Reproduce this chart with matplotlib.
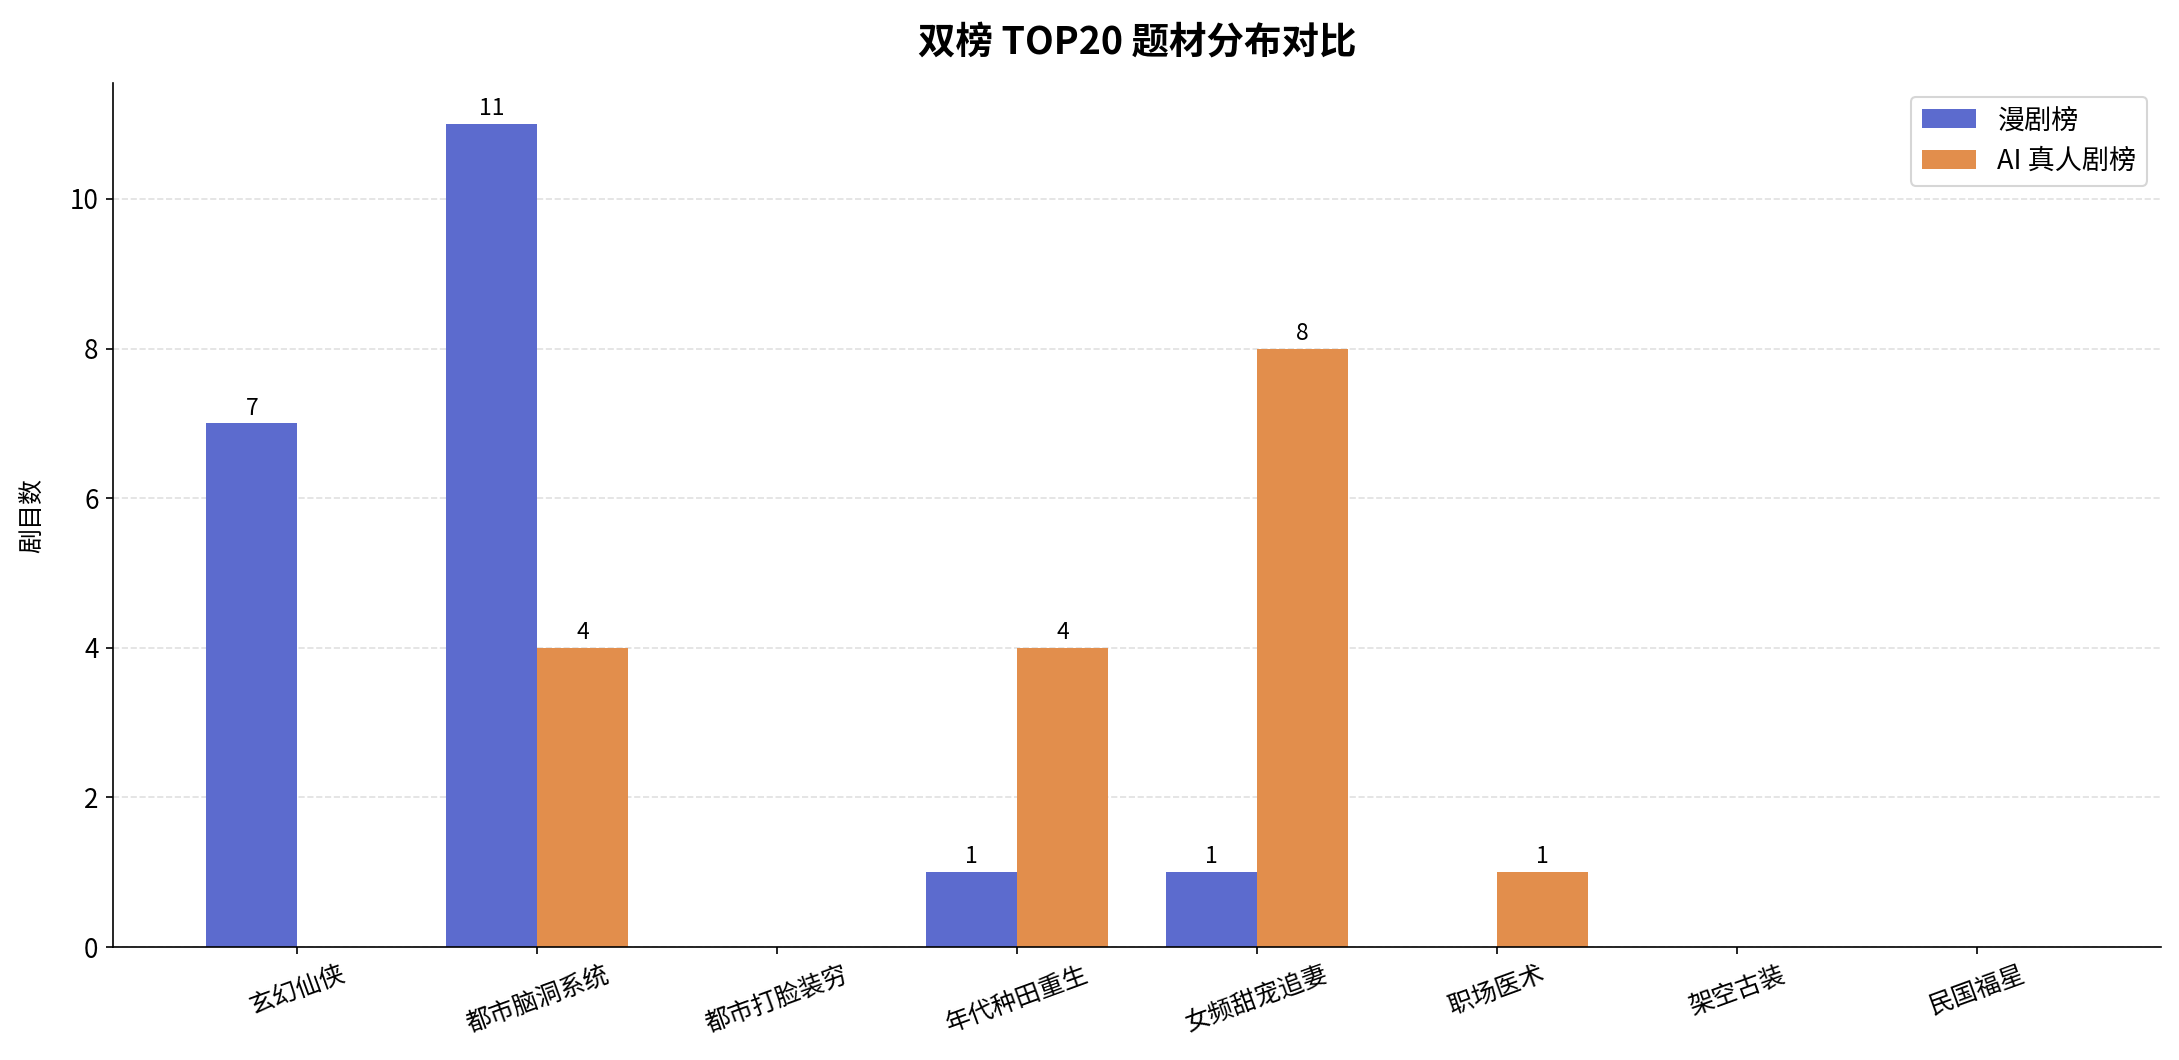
import matplotlib
matplotlib.use('Agg')
import matplotlib.pyplot as plt
import numpy as np

plt.rcParams['font.family'] = ['Noto Sans CJK SC', 'DejaVu Sans']

genres = ['玄幻仙侠', '都市脑洞系统', '都市打脸装穷', '年代种田重生',
          '女频甜宠追妻', '职场医术', '架空古装', '民国福星']
manju = [7, 11, 0, 1, 1, 0, 0, 0]
ai_real = [0, 4, 0, 4, 8, 1, 0, 0]

x = np.arange(len(genres))
w = 0.38

fig = plt.figure(figsize=(2179/150, 1060/150), dpi=150)
ax = fig.add_axes([0.0519, 0.1066, 0.9398, 0.8151])

b1 = ax.bar(x - w/2, manju, w, color='#5C6BCE', label='漫剧榜')
b2 = ax.bar(x + w/2, ai_real, w, color='#E28E4C', label='AI 真人剧榜')

for bars in (b1, b2):
    for r in bars:
        h = r.get_height()
        if h > 0:
            ax.text(r.get_x() + r.get_width()/2, h + 0.05, '%d' % h,
                    ha='center', va='bottom', fontsize=11)

ax.set_xticks(x)
ax.set_xticklabels(genres, rotation=20, fontsize=12)
ax.tick_params(axis='y', labelsize=12.5)
ax.set_ylabel('剧目数', fontsize=12, labelpad=12)
ax.set_title('双榜 TOP20 题材分布对比', fontsize=18, fontweight='bold', pad=14)
ax.yaxis.grid(True, linestyle='--', color='#cccccc', alpha=0.6)
ax.set_axisbelow(True)
ax.spines['top'].set_visible(False)
ax.spines['right'].set_visible(False)
ax.legend(loc='upper right', fontsize=13)

fig.savefig('out.png', dpi=150)
